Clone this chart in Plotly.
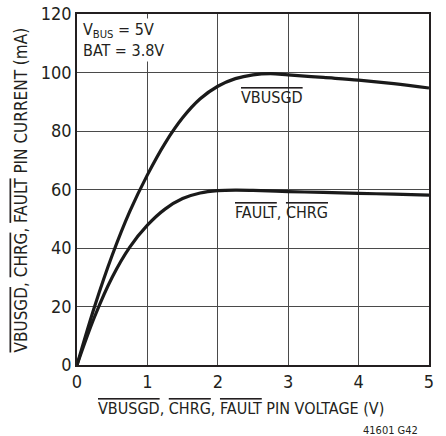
import plotly.graph_objects as go

vbusgd_x = [0, 0.25, 0.5, 0.75, 1.0, 1.25, 1.5, 1.75, 2.0, 2.25, 2.5, 2.75, 3.0, 3.5, 4.0, 4.5, 5.0]
vbusgd_y = [0, 20, 37.5, 52.5, 65, 75.8, 84.5, 91, 95.3, 97.9, 99.2, 99.6, 99.2, 98.3, 97.4, 96.2, 94.7]
fault_x = [0, 0.25, 0.5, 0.75, 1.0, 1.25, 1.5, 1.75, 2.0, 2.25, 2.5, 3.0, 3.5, 4.0, 4.5, 5.0]
fault_y = [0, 16.5, 30, 40.3, 47.8, 53.3, 56.9, 58.8, 59.6, 59.8, 59.7, 59.3, 59.0, 58.7, 58.4, 58.1]
x_ticks = [0, 1, 2, 3, 4, 5]
y_ticks = [0, 20, 40, 60, 80, 100, 120]

FONT = "DejaVu Sans Condensed, Roboto, sans-serif"

def ov(s):
    return "<span style='text-decoration:overline'>" + s + "</span>"

fig = go.Figure()
fig.add_trace(go.Scatter(x=vbusgd_x, y=vbusgd_y, mode="lines",
                         line=dict(color="#1a1a1a", width=3.2, shape="spline", smoothing=1.0),
                         showlegend=False, hoverinfo="skip"))
fig.add_trace(go.Scatter(x=fault_x, y=fault_y, mode="lines",
                         line=dict(color="#1a1a1a", width=3.2, shape="spline", smoothing=1.0),
                         showlegend=False, hoverinfo="skip"))

axis_common = dict(showgrid=True, gridcolor="#4a4a4a", gridwidth=1.3,
                   zeroline=False, showline=True, linecolor="#231f20", linewidth=1.5, mirror=True,
                   ticks="", tickfont=dict(size=18), automargin=False,
                   ticklabeloverflow="allow")

fig.update_layout(
    width=446, height=436,
    margin=dict(l=77, r=17, t=14, b=71),
    paper_bgcolor="white", plot_bgcolor="white",
    font=dict(family=FONT, color="#231f20", size=17),
    xaxis=dict(range=[0, 5], tickvals=x_ticks, **axis_common),
    yaxis=dict(range=[0, 120], tickvals=y_ticks, **axis_common),
    annotations=[
        dict(x=0.466, y=0, xref="paper", yref="paper", xanchor="center", yanchor="middle",
             yshift=-43,
             text=ov("VBUSGD") + ", " + ov("CHRG") + ", " + ov("FAULT") + " PIN VOLTAGE (V)",
             showarrow=False, font=dict(size=16)),
        dict(x=0, y=0.5, xref="paper", yref="paper", xanchor="center", yanchor="middle",
             xshift=-57, yshift=-1, textangle=-90,
             text=ov("VBUSGD") + ", " + ov("CHRG") + ", " + ov("FAULT") + " PIN CURRENT (mA)",
             showarrow=False, font=dict(size=17)),
        dict(x=0.06, y=118.5, xref="x", yref="y", xanchor="left", yanchor="top",
             text="V<sub>BUS</sub> = 5V<br>BAT = 3.8V", showarrow=False, align="left",
             font=dict(size=16), bgcolor="white", borderpad=1),
        dict(x=2.3, y=91.3, xref="x", yref="y", xanchor="left", yanchor="middle",
             text=ov("VBUSGD"), showarrow=False, font=dict(size=16)),
        dict(x=2.22, y=52.3, xref="x", yref="y", xanchor="left", yanchor="middle",
             text=ov("FAULT") + ", " + ov("CHRG"), showarrow=False, font=dict(size=16)),
        dict(x=1.0, y=0, xref="paper", yref="paper", xanchor="right", yanchor="middle",
             yshift=-65, xshift=-9,
             text="41601 G42", showarrow=False, font=dict(size=11)),
    ],
)

fig.write_html("out.html", config={"displayModeBar": False},
               post_script="document.body.style.margin='0px';")
